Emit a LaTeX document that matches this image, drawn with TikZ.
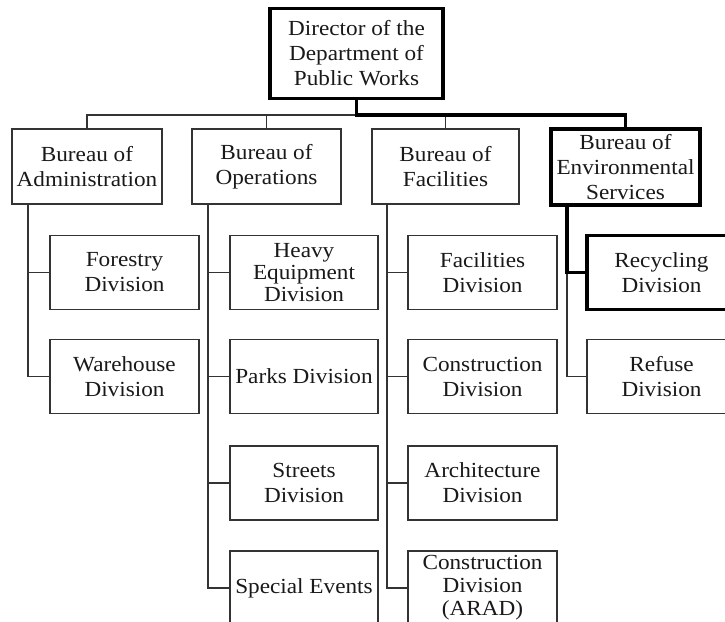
\documentclass[tikz,border=0pt]{standalone}
\usepackage{fontspec}
\setmainfont{Liberation Serif}[FakeStretch=1.08]
\begin{document}
\begin{tikzpicture}[x=1pt,y=-1pt,
  box/.style={draw=black!80, line width=1.2pt, fill=white, align=center, inner sep=0pt,
    minimum width=149pt, minimum height=74pt, text=black!90,
    font=\fontsize{21.5}{25}\selectfont},
  hbox/.style={box, line width=3.2pt, draw=black},
  link/.style={draw=black!80, line width=1.2pt},
  hlink/.style={draw=black, line width=3.2pt}]
\clip (0,0) rectangle (725,621);
\fill[white] (0,0) rectangle (725,621);
% top
\node[hbox, minimum width=173pt, minimum height=90pt] (dir) at (356.5,53.5) {Director of the\\Department of\\Public Works};
% bureaus
\node[box, minimum width=150pt, minimum height=75pt] (admin) at (87,166.5) {Bureau of\\Administration};
\node[box, minimum height=75pt] (ops) at (266.5,166.5) {Bureau of\\Operations};
\node[box, minimum width=147pt, minimum height=75pt] (fac) at (445.5,166.5) {Bureau of\\Facilities};
\node[hbox, minimum width=149pt, minimum height=76pt] (env) at (625.5,167) {Bureau of\\Environmental\\Services};
% admin children
\node[box] (forest) at (124.5,272.5) {Forestry\\Division};
\node[box] (ware) at (124.5,376.5) {Warehouse\\Division};
% ops children
\node[box, minimum width=148pt, font=\fontsize{21.5}{22}\selectfont] (heavy) at (304,272.5) {Heavy\\Equipment\\Division};
\node[box, minimum width=148pt] (parks) at (304,376.5) {Parks Division};
\node[box, minimum width=148pt] (streets) at (304,483) {Streets\\Division};
\node[box, minimum width=148pt] (special) at (304,588) {Special Events};
% fac children
\node[box] (facdiv) at (482.5,272.5) {Facilities\\Division};
\node[box] (constr) at (482.5,376.5) {Construction\\Division};
\node[box] (arch) at (482.5,483) {Architecture\\Division};
\node[box, font=\fontsize{21.5}{23}\selectfont] (arad) at (482.5,588) {Construction\\Division\\(ARAD)};
% env children
\node[hbox] (recyc) at (661.5,272.5) {Recycling\\Division};
\node[box] (refuse) at (661.5,376.5) {Refuse\\Division};
% top connectors
\coordinate (bus) at (356.5,115);
\draw[link] (admin.north) |- (bus);
\draw[link] (ops.north) -- (ops.north |- bus);
\draw[link] (fac.north) -- (fac.north |- bus);
\draw[hlink] (dir.south) -- (bus) -| (env.north);
% trunks
\coordinate (ta) at (28,204);
\coordinate (to) at (208,204);
\coordinate (tf) at (387,204);
\coordinate (te) at (567,205);
\draw[link] (ta) |- (ware.west);
\draw[link] (forest.west) -- (forest.west -| ta);
\draw[link] (to) |- (special.west);
\draw[link] (heavy.west) -- (heavy.west -| to);
\draw[link] (parks.west) -- (parks.west -| to);
\draw[link] (streets.west) -- (streets.west -| to);
\draw[link] (tf) |- (arad.west);
\draw[link] (facdiv.west) -- (facdiv.west -| tf);
\draw[link] (constr.west) -- (constr.west -| tf);
\draw[link] (arch.west) -- (arch.west -| tf);
\draw[link] (recyc.west -| te) |- (refuse.west);
\draw[hlink] (te) |- (recyc.west);
\end{tikzpicture}
\end{document}
